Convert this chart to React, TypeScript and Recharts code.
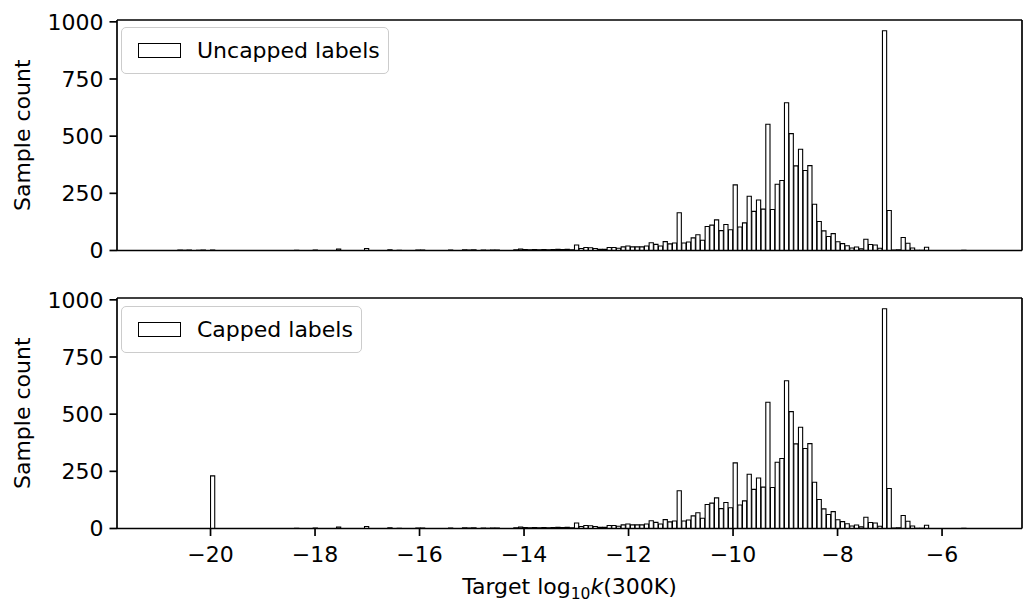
import { BarChart, Bar, XAxis, YAxis, ReferenceLine } from 'recharts'

// histogram bins (log10 k units)
const BIN_WIDTH = 0.0893
const FIRST_EDGE = -20.625 // left edge of first uncapped bin
const CAP_EDGE = -20 // everything below this is piled into the first capped bin

// counts per bin, starting at FIRST_EDGE
const uncappedCounts = [
  2, 1, 2, 0, 1, 2, 0, 2, 0, 0, 0, 0, 0, 0, 0, 0, 0, 0, 0, 0,
  0, 0, 0, 0, 0, 1, 0, 0, 0, 2, 0, 0, 0, 0, 6, 0, 0, 0, 0, 0,
  9, 0, 0, 0, 0, 3, 0, 1, 0, 0, 0, 2, 2, 0, 0, 0, 0, 0, 2, 0,
  0, 3, 2, 3, 0, 2, 1, 2, 2, 0, 0, 0, 3, 6, 4, 3, 4, 3, 4, 3,
  4, 5, 4, 5, 3, 24, 9, 13, 12, 9, 5, 5, 13, 13, 10, 16, 20, 16, 16, 16,
  20, 34, 27, 20, 39, 29, 33, 165, 33, 37, 55, 69, 45, 105, 111, 134, 87, 114, 91, 287,
  103, 121, 237, 171, 221, 181, 552, 179, 290, 306, 646, 511, 370, 443, 350, 371, 202, 127, 86, 61,
  74, 38, 30, 21, 11, 15, 7, 49, 26, 24, 10, 961, 175, 2, 3, 57, 32, 11, 1, 1,
  14, 0, 0, 0, 0, 0, 0, 0, 1,
]
const capFloorCount = 230

const xTicks = [-20, -18, -16, -14, -12, -10, -8, -6]
const yTicks = [0, 250, 500, 750, 1000]
const X_DOMAIN: [number, number] = [-21.79, -4.47]
const Y_DOMAIN: [number, number] = [0, 1008]

const PLOT_LEFT = 117
const PLOT_RIGHT = 1022
const PLOT_H = 230.5
const FONT = '"DejaVu Sans", sans-serif'
const FS = 22
const AXIS = { stroke: '#000', strokeWidth: 1.7 }

const skip = Math.round((CAP_EDGE - FIRST_EDGE) / BIN_WIDTH)

const uncappedData = uncappedCounts.map((count, i) => ({
  x: FIRST_EDGE + (i + 0.5) * BIN_WIDTH,
  count,
}))
const cappedData = [capFloorCount, ...uncappedCounts.slice(skip + 1)].map((count, i) => ({
  x: CAP_EDGE + (i + 0.5) * BIN_WIDTH,
  count,
}))

const barSize = (BIN_WIDTH * (PLOT_RIGHT - PLOT_LEFT)) / (X_DOMAIN[1] - X_DOMAIN[0])

const fmt = (v: number) => (v < 0 ? `\u2212${Math.abs(v)}` : `${v}`)

function YLabel({ viewBox }: any) {
  const cy = viewBox.y + viewBox.height / 2
  return (
    <text
      x={22}
      y={cy}
      transform={`rotate(-90, 22, ${cy})`}
      textAnchor="middle"
      dominantBaseline="central"
      fontSize={FS}
      fontFamily={FONT}
      fill="#000"
    >
      Sample count
    </text>
  )
}

function XLabel({ viewBox }: any) {
  const cx = viewBox.x + viewBox.width / 2
  return (
    <text x={cx} y={viewBox.y + 65} textAnchor="middle" fontSize={FS} fontFamily={FONT} fill="#000">
      Target log
      <tspan dy={5} fontSize={15.5}>10</tspan>
      <tspan dy={-5} fontStyle="italic">k</tspan>
      (300K)
    </text>
  )
}

function LegendBox({ label, top }: { label: string; top: number }) {
  return (
    <div
      style={{
        position: 'absolute',
        left: 121,
        top,
        height: 47,
        boxSizing: 'border-box',
        display: 'flex',
        alignItems: 'center',
        padding: '0 8px 0 16px',
        border: '1.5px solid #ccc',
        borderRadius: 5,
        background: 'rgba(255,255,255,0.8)',
        fontFamily: FONT,
        fontSize: FS,
        color: '#000',
      }}
    >
      <div
        style={{
          width: 43,
          height: 15,
          boxSizing: 'border-box',
          border: '1.3px solid #000',
          background: '#fff',
          marginRight: 16,
        }}
      />
      <span>{label}</span>
    </div>
  )
}

function Panel({
  data,
  label,
  height,
  legendTop,
  showTicks,
}: {
  data: { x: number; count: number }[]
  label: string
  height: number
  legendTop: number
  showTicks: boolean
}) {
  const top = 20
  const xAxisH = height - top - PLOT_H
  return (
    <div style={{ position: 'relative', width: 1024, height }}>
      <BarChart
        width={1024}
        height={height}
        data={data}
        margin={{ top, right: 1024 - PLOT_RIGHT, bottom: 0, left: 0 }}
      >
        <XAxis
          dataKey="x"
          type="number"
          domain={X_DOMAIN}
          allowDataOverflow
          ticks={xTicks}
          interval={0}
          tickFormatter={fmt}
          height={xAxisH}
          tickSize={7.5}
          tickMargin={10}
          tick={showTicks ? { fill: '#000', fontSize: FS, fontFamily: FONT } : false}
          tickLine={AXIS}
          axisLine={AXIS}
          label={showTicks ? <XLabel /> : undefined}
        />
        <YAxis
          type="number"
          domain={Y_DOMAIN}
          allowDataOverflow
          ticks={yTicks}
          interval={0}
          width={PLOT_LEFT}
          tickSize={7.5}
          tickMargin={6}
          tick={{ fill: '#000', fontSize: FS, fontFamily: FONT }}
          tickLine={AXIS}
          axisLine={AXIS}
          label={<YLabel />}
        />
        <Bar
          dataKey="count"
          fill="#fff"
          stroke="#000"
          strokeWidth={1.1}
          barSize={barSize}
          isAnimationActive={false}
        />
        {/* top and right spines */}
        <ReferenceLine y={Y_DOMAIN[1]} stroke="#000" strokeWidth={1.7} />
        <ReferenceLine x={X_DOMAIN[1]} stroke="#000" strokeWidth={1.7} />
      </BarChart>
      <LegendBox label={label} top={legendTop} />
    </div>
  )
}

export default function App() {
  return (
    <div style={{ position: 'absolute', left: 0, top: 0, width: 1024, height: 601, background: '#fff' }}>
      <div style={{ position: 'absolute', left: 0, top: 0 }}>
        <Panel data={uncappedData} label="Uncapped labels" height={272} legendTop={27} showTicks={false} />
      </div>
      <div style={{ position: 'absolute', left: 0, top: 278 }}>
        <Panel data={cappedData} label="Capped labels" height={323} legendTop={28} showTicks />
      </div>
    </div>
  )
}
